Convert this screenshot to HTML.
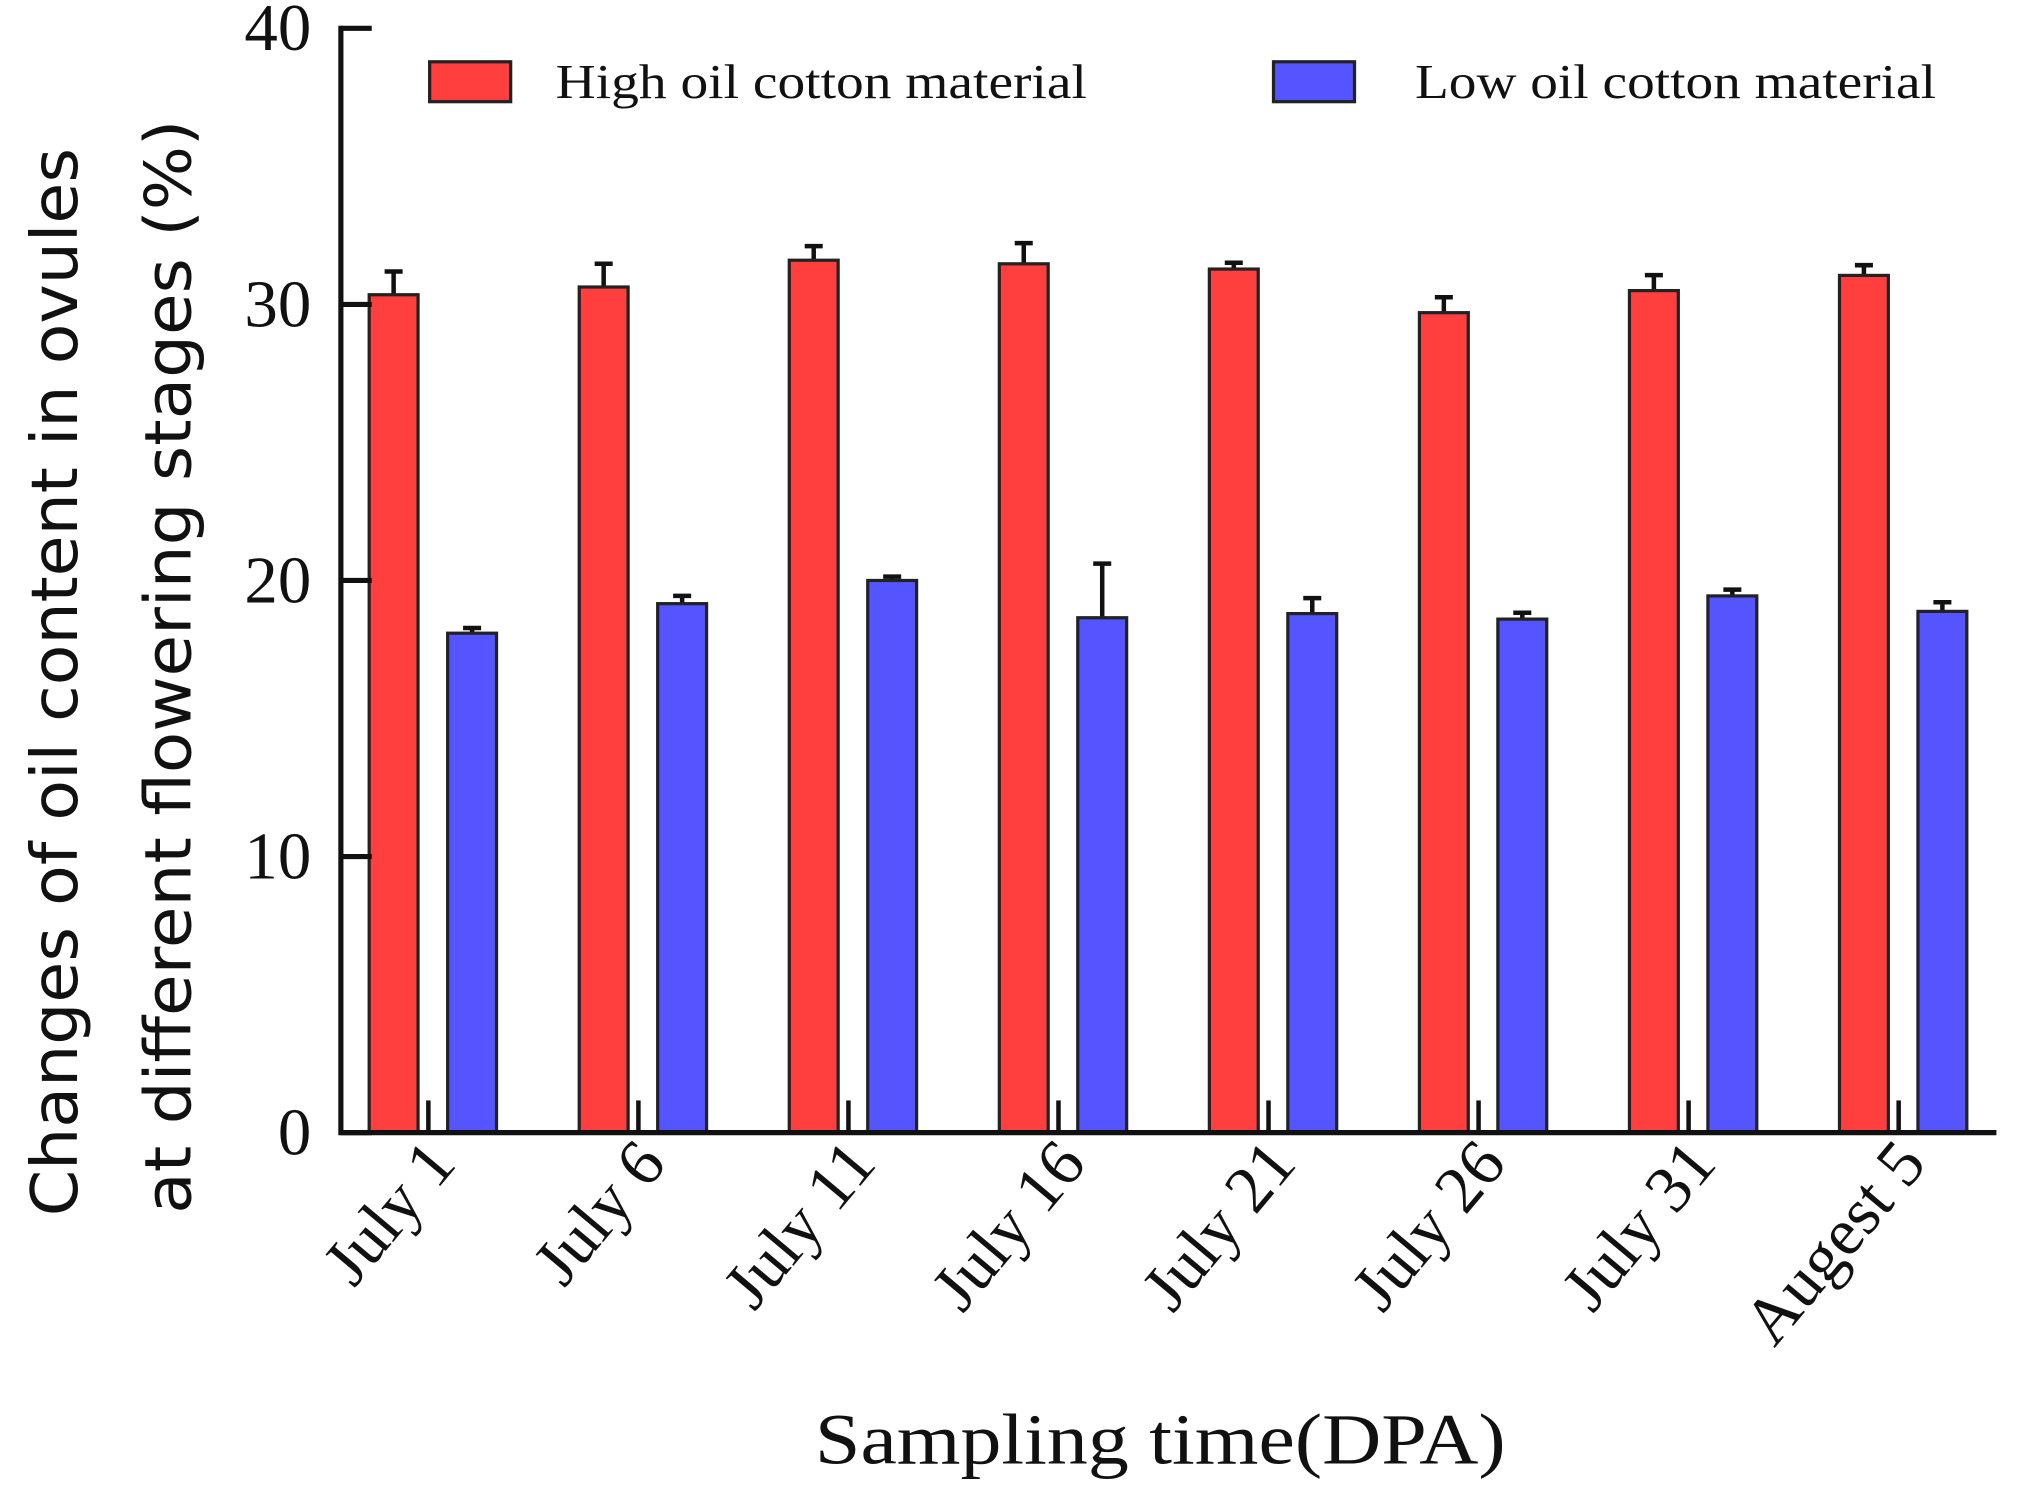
<!DOCTYPE html>
<html><head><meta charset="utf-8"><style>
html,body{margin:0;padding:0;background:#fff;}
svg{display:block;}
</style></head><body>
<svg id="chart" width="2017" height="1493" viewBox="0 0 1568 1160" preserveAspectRatio="none" xmlns="http://www.w3.org/2000/svg">
<g id="legend">
 <rect x="334" y="48" width="63" height="31" fill="#ff3e3e" stroke="#222" stroke-width="2.5"/>
 <text x="432" y="76" textLength="413" lengthAdjust="spacingAndGlyphs" font-family="Liberation Serif, serif" font-size="38" fill="#111">High oil cotton material</text>
 <rect x="990" y="48" width="63" height="31" fill="#5555ff" stroke="#222" stroke-width="2.5"/>
 <text x="1100" y="76" textLength="405" lengthAdjust="spacingAndGlyphs" font-family="Liberation Serif, serif" font-size="38" fill="#111">Low oil cotton material</text>
</g>
<g id="yt" font-family="DejaVu Sans, sans-serif" font-size="50" fill="#111" text-anchor="middle">
 <text transform="translate(60,530) rotate(-90)" textLength="830" lengthAdjust="spacingAndGlyphs">Changes of oil content in ovules</text>
 <text transform="translate(148,518) rotate(-90)" textLength="850" lengthAdjust="spacingAndGlyphs">at different flowering stages (%)</text>
</g>
<text x="902" y="1137" text-anchor="middle" textLength="537" lengthAdjust="spacingAndGlyphs" font-family="Liberation Serif, serif" font-size="56" fill="#111">Sampling time(DPA)</text>
<g id="marks"></g>
<g id="axes"></g>
</svg>
<script>
const categories = ["July 1","July 6","July 11","July 16","July 21","July 26","July 31","Augest 5"];
const highValues = [30.35,30.63,31.6,31.47,31.28,29.7,30.5,31.05];
const highErrors = [0.84,0.84,0.51,0.75,0.23,0.56,0.56,0.37];
const lowValues = [18.09,19.16,20.0,18.65,18.8,18.6,19.44,18.88];
const lowErrors = [0.19,0.28,0.14,1.96,0.56,0.23,0.23,0.33];
const yTicks = [0,10,20,30,40];

const NS = "http://www.w3.org/2000/svg";
const x0 = 265, x1 = 1552, yBase = 880, yTop = 22, yMax = 40;
const firstCenter = 336;
function yScale(v){ return yBase - (v / yMax) * (yBase - yTop); }
function xCenter(i){ return firstCenter + i * (1479 - firstCenter) / (categories.length - 1); }
function mk(tag, attrs, parent){
  const e = document.createElementNS(NS, tag);
  for (const k in attrs) e.setAttribute(k, attrs[k]);
  parent.appendChild(e);
  return e;
}
const marks = document.getElementById('marks');
const axes = document.getElementById('axes');

function drawBar(i, v, err, offset, color, name){
  const cx = xCenter(i) + offset;
  const w = 38;
  const top = yScale(v);
  const eTop = yScale(v + err);
  const eb = mk('path', {d:`M${cx} ${top} V${eTop} M${cx-7} ${eTop} H${cx+7}`, stroke:'#111', 'stroke-width':3.5, fill:'none'}, marks);
  
  
  const r = mk('rect', {x:cx - w/2, y:top, width:w, height:yBase - top, fill:color, stroke:'#222', 'stroke-width':2.5}, marks);
  
  
}
categories.forEach((c, i) => {
  drawBar(i, highValues[i], highErrors[i], -30, '#ff3e3e', 'bar-high-' + i);
  drawBar(i, lowValues[i], lowErrors[i], 31, '#5555ff', 'bar-low-' + i);
  const tk = mk('line', {x1:xCenter(i)-3, x2:xCenter(i)-3, y1:yBase, y2:yBase-25, stroke:'#111', 'stroke-width':3.5}, axes);
  
  
  const lx = xCenter(i) + 20, ly = 905;
  const t = mk('text', {x:lx, y:ly, transform:`rotate(-50 ${lx} ${ly})`, 'text-anchor':'end', 'font-family':'Liberation Serif, serif', 'font-size':52, fill:'#111'}, axes);
  t.textContent = c;
  
  
});
const ya = mk('path', {d:`M${x0} ${yTop-2} V${yBase} H${x1}`, stroke:'#111', 'stroke-width':4, fill:'none'}, axes);


yTicks.forEach(v => {
  const y = yScale(v);
  const l = mk('line', {x1:x0, x2:x0+24, y1:y, y2:y, stroke:'#111', 'stroke-width':4}, axes);
  
  
  const t = mk('text', {x:242, y:y+17, 'text-anchor':'end', 'font-family':'Liberation Serif, serif', 'font-size':52, fill:'#111'}, axes);
  t.textContent = String(v);
  
  
});
</script>
</body></html>
